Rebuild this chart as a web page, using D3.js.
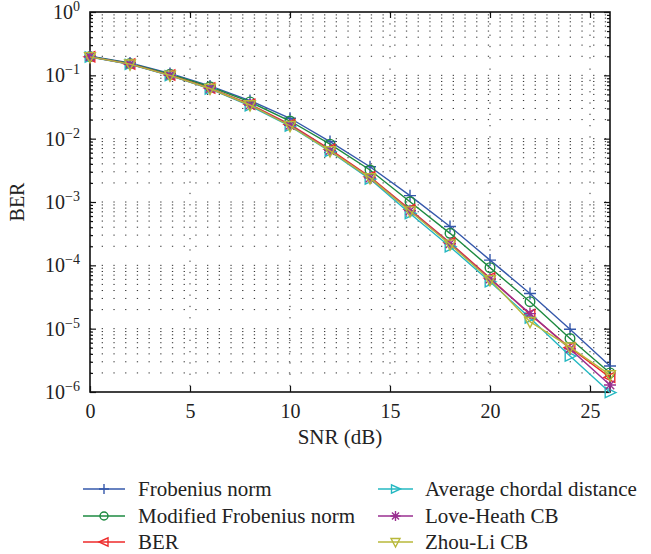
<!DOCTYPE html>
<html>
<head>
<meta charset="utf-8">
<script src="https://cdn.jsdelivr.net/npm/d3@7"></script>
<style>
  body { margin: 0; background: #fff; }
  text { font-family: "Liberation Serif", "DejaVu Serif", serif; fill: #222; }
</style>
</head>
<body>
<div id="chart"></div>
<script>
// data
var snr = [0, 2, 4, 6, 8, 10, 12, 14, 16, 18, 20, 22, 24, 26];

var frobenius = [0.200, 0.157, 0.107, 0.068, 0.040, 0.021, 0.0090, 0.0036, 0.00126, 0.00041, 0.000121, 3.6e-5, 9.8e-6, 2.57e-6];
var modFrobenius = [0.198, 0.154, 0.104, 0.066, 0.038, 0.019, 0.0082, 0.0032, 0.00101, 0.00032, 9.2e-5, 2.67e-5, 7.0e-6, 2.0e-6];
var berCrit = [0.196, 0.151, 0.101, 0.063, 0.035, 0.0168, 0.0068, 0.0025, 0.00076, 0.000228, 6.3e-5, 1.68e-5, 5.0e-6, 1.7e-6];
var chordal = [0.195, 0.149, 0.099, 0.061, 0.033, 0.0158, 0.0063, 0.0023, 0.00066, 0.000197, 5.5e-5, 1.47e-5, 3.7e-6, 0.98e-6];
var loveHeath = [0.196, 0.150, 0.100, 0.062, 0.034, 0.0163, 0.0065, 0.0024, 0.00073, 0.00022, 6.1e-5, 1.73e-5, 4.8e-6, 1.29e-6];
var zhouLi = [0.196, 0.150, 0.100, 0.062, 0.034, 0.0160, 0.0064, 0.0024, 0.00072, 0.000215, 5.9e-5, 1.29e-5, 5.1e-6, 1.86e-6];

var seriesNames = ["Frobenius norm", "Modified Frobenius norm", "BER",
  "Average chordal distance", "Love-Heath CB", "Zhou-Li CB"];
var seriesValues = [frobenius, modFrobenius, berCrit, chordal, loveHeath, zhouLi];
var seriesColors = ["#3558ab", "#1d8a40", "#ee2a2a", "#25b8c2", "#9a2f90", "#b8b83a"];
var seriesMarkers = ["plus", "circle", "triLeft", "triRight", "star", "triDown"];

var xTicks = [0, 5, 10, 15, 20, 25];
var yExps = [0, -1, -2, -3, -4, -5, -6];

var svgWidth = 651;
var svgHeight = 554;

var plot = { left: 90, right: 610, top: 12, bottom: 392 };

var svg = d3.select("#chart")
  .append("svg")
  .attr("width", svgWidth)
  .attr("height", svgHeight);

var x = d3.scaleLinear().domain([0, 26]).range([plot.left, plot.right]);
var y = d3.scaleLog().domain([1e-6, 1]).range([plot.bottom, plot.top]);

// minor log ticks
var minorVals = [];
for (var e = -6; e < 0; e++) {
  for (var m = 2; m <= 9; m++) minorVals.push(m * Math.pow(10, e));
}
var majorVals = yExps.map(d => Math.pow(10, d));

// dotted grid
var grid = svg.append("g");
grid.selectAll(".hgrid")
  .data(majorVals.concat(minorVals).filter(v => v > 1e-6 && v < 1))
  .enter()
  .append("line")
  .attr("x1", plot.left)
  .attr("x2", plot.right)
  .attr("y1", d => y(d))
  .attr("y2", d => y(d))
  .attr("stroke", "#333")
  .attr("stroke-width", 1)
  .attr("stroke-dasharray", "1.3,10.4");

grid.selectAll(".vgrid")
  .data(xTicks.filter(d => d > 0))
  .enter()
  .append("line")
  .attr("x1", d => x(d))
  .attr("x2", d => x(d))
  .attr("y1", plot.top)
  .attr("y2", plot.bottom)
  .attr("stroke", "#333")
  .attr("stroke-width", 1)
  .attr("stroke-dasharray", "1.3,10");

// frame
svg.append("rect")
  .attr("x", plot.left)
  .attr("y", plot.top)
  .attr("width", plot.right - plot.left)
  .attr("height", plot.bottom - plot.top)
  .attr("fill", "none")
  .attr("stroke", "#111")
  .attr("stroke-width", 1.6);

// axes with inward ticks
var bottomAxis = d3.axisBottom(x).tickValues(xTicks).tickSize(-6).tickPadding(12).tickFormat(d3.format("d"));
var topAxis = d3.axisTop(x).tickValues(xTicks).tickSize(-6).tickFormat("");
var leftMajor = d3.axisLeft(y).tickValues(majorVals).tickSize(-6).tickFormat("");
var leftMinor = d3.axisLeft(y).tickValues(minorVals).tickSize(-3).tickFormat("");
var rightMajor = d3.axisRight(y).tickValues(majorVals).tickSize(-6).tickFormat("");
var rightMinor = d3.axisRight(y).tickValues(minorVals).tickSize(-3).tickFormat("");

function styleAxis(g) {
  g.select(".domain").remove();
  g.selectAll("line").attr("stroke", "#111").attr("stroke-width", 1.2);
  g.selectAll("text").attr("font-family", "Liberation Serif").attr("font-size", 20).attr("fill", "#222");
}

svg.append("g").attr("transform", `translate(0, ${plot.bottom})`).call(bottomAxis).call(styleAxis);
svg.append("g").attr("transform", `translate(0, ${plot.top})`).call(topAxis).call(styleAxis);
svg.append("g").attr("transform", `translate(${plot.left}, 0)`).call(leftMajor).call(styleAxis);
svg.append("g").attr("transform", `translate(${plot.left}, 0)`).call(leftMinor).call(styleAxis);
svg.append("g").attr("transform", `translate(${plot.right}, 0)`).call(rightMajor).call(styleAxis);
svg.append("g").attr("transform", `translate(${plot.right}, 0)`).call(rightMinor).call(styleAxis);

// y tick labels as 10^k
var yLabels = svg.append("g");
yExps.forEach(function(k) {
  var t = yLabels.append("text")
    .attr("x", plot.left - 10)
    .attr("y", y(Math.pow(10, k)) + 7)
    .attr("text-anchor", "end")
    .attr("font-size", 20);
  t.append("tspan").text("10");
  t.append("tspan")
    .attr("dy", -8)
    .attr("font-size", 14)
    .text(k === 0 ? "0" : "\u2212" + (-k));
});

// marker shapes
function markerPath(type, s) {
  switch (type) {
    case "plus":
      return `M${-s},0L${s},0M0,${-s}L0,${s}`;
    case "triLeft":
      return `M${-s},0L${s * 0.8},${-s * 0.85}L${s * 0.8},${s * 0.85}Z`;
    case "triRight":
      return `M${s},0L${-s * 0.8},${-s * 0.85}L${-s * 0.8},${s * 0.85}Z`;
    case "triDown":
      return `M0,${s}L${-s * 0.9},${-s * 0.7}L${s * 0.9},${-s * 0.7}Z`;
    case "star":
      var p = "";
      for (var i = 0; i < 4; i++) {
        var a = i * Math.PI / 4;
        p += `M${-s * Math.cos(a)},${-s * Math.sin(a)}L${s * Math.cos(a)},${s * Math.sin(a)}`;
      }
      return p;
  }
  return "";
}

function drawMarker(g, type, cx, cy, color, s) {
  if (type === "circle") {
    g.append("circle")
      .attr("cx", cx).attr("cy", cy).attr("r", s * 0.8)
      .attr("fill", "none").attr("stroke", color).attr("stroke-width", 1.4);
  } else {
    g.append("path")
      .attr("transform", `translate(${cx},${cy})`)
      .attr("d", markerPath(type, s))
      .attr("fill", "none")
      .attr("stroke", color)
      .attr("stroke-width", 1.4);
  }
}

var line = d3.line()
  .x(d => x(d[0]))
  .y(d => y(d[1]));

var lines = svg.append("g");
seriesValues.forEach(function(vals, i) {
  var pts = snr.map((s, j) => [s, vals[j]]);
  lines.append("path")
    .datum(pts)
    .attr("d", line)
    .attr("fill", "none")
    .attr("stroke", seriesColors[i])
    .attr("stroke-width", 1.4);
  var mg = lines.append("g");
  pts.forEach(function(p) {
    drawMarker(mg, seriesMarkers[i], x(p[0]), y(p[1]), seriesColors[i], 6);
  });
});

// axis titles
svg.append("text")
  .attr("x", 340)
  .attr("y", 444)
  .attr("text-anchor", "middle")
  .attr("font-size", 21)
  .text("SNR (dB)");

svg.append("text")
  .attr("transform", `translate(24, ${(plot.top + plot.bottom) / 2}) rotate(-90)`)
  .attr("text-anchor", "middle")
  .attr("font-size", 20)
  .text("BER");

// legend, two columns
var legend = svg.append("g");
var legendPos = [
  { lx: 83, tx: 138, y: 489 }, { lx: 83, tx: 138, y: 516 }, { lx: 83, tx: 138, y: 542 },
  { lx: 378, tx: 425, y: 489 }, { lx: 378, tx: 425, y: 516 }, { lx: 378, tx: 425, y: 542 }
];
seriesNames.forEach(function(name, i) {
  var pos = legendPos[i];
  var lw = i < 3 ? 42 : 35;
  legend.append("line")
    .attr("x1", pos.lx).attr("x2", pos.lx + lw)
    .attr("y1", pos.y).attr("y2", pos.y)
    .attr("stroke", seriesColors[i])
    .attr("stroke-width", 1.4);
  drawMarker(legend, seriesMarkers[i], pos.lx + lw / 2, pos.y, seriesColors[i], 5);
  legend.append("text")
    .attr("x", pos.tx)
    .attr("y", pos.y + 7)
    .attr("font-size", 21)
    .text(name);
});
</script>
</body>
</html>
